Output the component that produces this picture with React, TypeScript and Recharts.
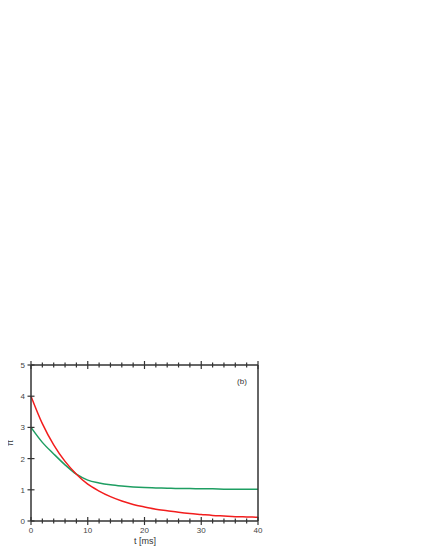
import React from "react";
import { LineChart, Line, XAxis, YAxis } from "recharts";

const times = [0, 2, 4, 6, 8, 10, 12, 14, 16, 18, 20, 22, 24, 26, 28, 30, 32, 34, 36, 38, 40];
const redValues = [4.0, 3.12, 2.44, 1.91, 1.5, 1.18, 0.96, 0.78, 0.64, 0.53, 0.45, 0.38, 0.33, 0.28, 0.24, 0.21, 0.18, 0.16, 0.14, 0.13, 0.12];
const greenValues = [3.0, 2.52, 2.15, 1.8, 1.5, 1.31, 1.22, 1.16, 1.12, 1.09, 1.07, 1.06, 1.05, 1.04, 1.04, 1.03, 1.03, 1.02, 1.02, 1.02, 1.02];
const xTicks = [0, 2, 4, 6, 8, 10, 12, 14, 16, 18, 20, 22, 24, 26, 28, 30, 32, 34, 36, 38, 40];
const xLabels = [0, 10, 20, 30, 40];
const yTicks = [0, 1, 2, 3, 4, 5];

const data = times.map((t, i) => ({ t, red: redValues[i], green: greenValues[i] }));

const AXIS = "#333";
const FONT = "'Liberation Sans', Arial, sans-serif";

// ticks cross the axis line: drawn by hand so they stick out on both sides
function BottomTick(props: any) {
  const { x, y, payload } = props;
  const major = xLabels.includes(payload.value);
  const h = major ? 4 : 2.5;
  return (
    <g>
      <line x1={x} x2={x} y1={y - h} y2={y + h} stroke={AXIS} strokeWidth={1.2} />
      {major && (
        <text x={x} y={y + 12} textAnchor="middle" fontSize={8} fill="#444" fontFamily={FONT}>
          {payload.value}
        </text>
      )}
    </g>
  );
}

function TopTick(props: any) {
  const { x, y, payload } = props;
  const h = xLabels.includes(payload.value) ? 4 : 2.5;
  return <line x1={x} x2={x} y1={y - h} y2={y + h} stroke={AXIS} strokeWidth={1.2} />;
}

function LeftTick(props: any) {
  const { x, y, payload } = props;
  return (
    <g>
      <line x1={x - 3.5} x2={x + 3.5} y1={y} y2={y} stroke={AXIS} strokeWidth={1.2} />
      <text x={x - 6} y={y + 3} textAnchor="end" fontSize={8} fill="#444" fontFamily={FONT}>
        {payload.value}
      </text>
    </g>
  );
}

function RightTick(props: any) {
  const { x, y } = props;
  return <line x1={x - 3.5} x2={x + 3.5} y1={y} y2={y} stroke={AXIS} strokeWidth={1.2} />;
}

export default function App() {
  return (
    <div style={{ marginLeft: -8 }}>
      <LineChart
        width={420}
        height={542}
        data={data}
        margin={{ top: 352, right: 152, bottom: 0, left: 0 }}
      >
        <XAxis
          dataKey="t"
          type="number"
          domain={[0, 40]}
          ticks={xTicks}
          interval={0}
          height={29}
          tickSize={0}
          tickMargin={0}
          tickLine={false}
          axisLine={{ stroke: AXIS, strokeWidth: 1.5 }}
          tick={<BottomTick />}
        />
        <XAxis
          xAxisId="top"
          orientation="top"
          dataKey="t"
          type="number"
          domain={[0, 40]}
          ticks={xTicks}
          interval={0}
          height={5}
          tickSize={0}
          tickMargin={0}
          tickLine={false}
          axisLine={{ stroke: AXIS, strokeWidth: 1.5 }}
          tick={<TopTick />}
        />
        <YAxis
          type="number"
          domain={[0, 5]}
          ticks={yTicks}
          interval={0}
          width={31}
          tickSize={0}
          tickMargin={0}
          tickLine={false}
          axisLine={{ stroke: AXIS, strokeWidth: 1.5 }}
          tick={<LeftTick />}
        />
        <YAxis
          yAxisId="right"
          orientation="right"
          type="number"
          domain={[0, 5]}
          ticks={yTicks}
          interval={0}
          width={10}
          tickSize={0}
          tickMargin={0}
          tickLine={false}
          axisLine={{ stroke: AXIS, strokeWidth: 1.5 }}
          tick={<RightTick />}
        />
        <Line
          type="monotone"
          dataKey="green"
          stroke="#1e9e62"
          strokeWidth={1.5}
          dot={false}
          isAnimationActive={false}
        />
        <Line
          type="monotone"
          dataKey="red"
          stroke="#f21d1d"
          strokeWidth={1.5}
          dot={false}
          isAnimationActive={false}
        />
        <text x={242} y={376} textAnchor="middle" fontSize={8} fill="#333" fontFamily={FONT}>
          (b)
        </text>
        <text x={145} y={536} textAnchor="middle" fontSize={9} fill="#333" fontFamily={FONT}>
          t [ms]
        </text>
        <text
          x={13}
          y={435}
          textAnchor="middle"
          fontSize={9}
          fill="#333"
          fontFamily={FONT}
          transform="rotate(-90, 13, 435)"
          style={{ textDecoration: "overline" }}
        >
          π
        </text>
      </LineChart>
    </div>
  );
}
